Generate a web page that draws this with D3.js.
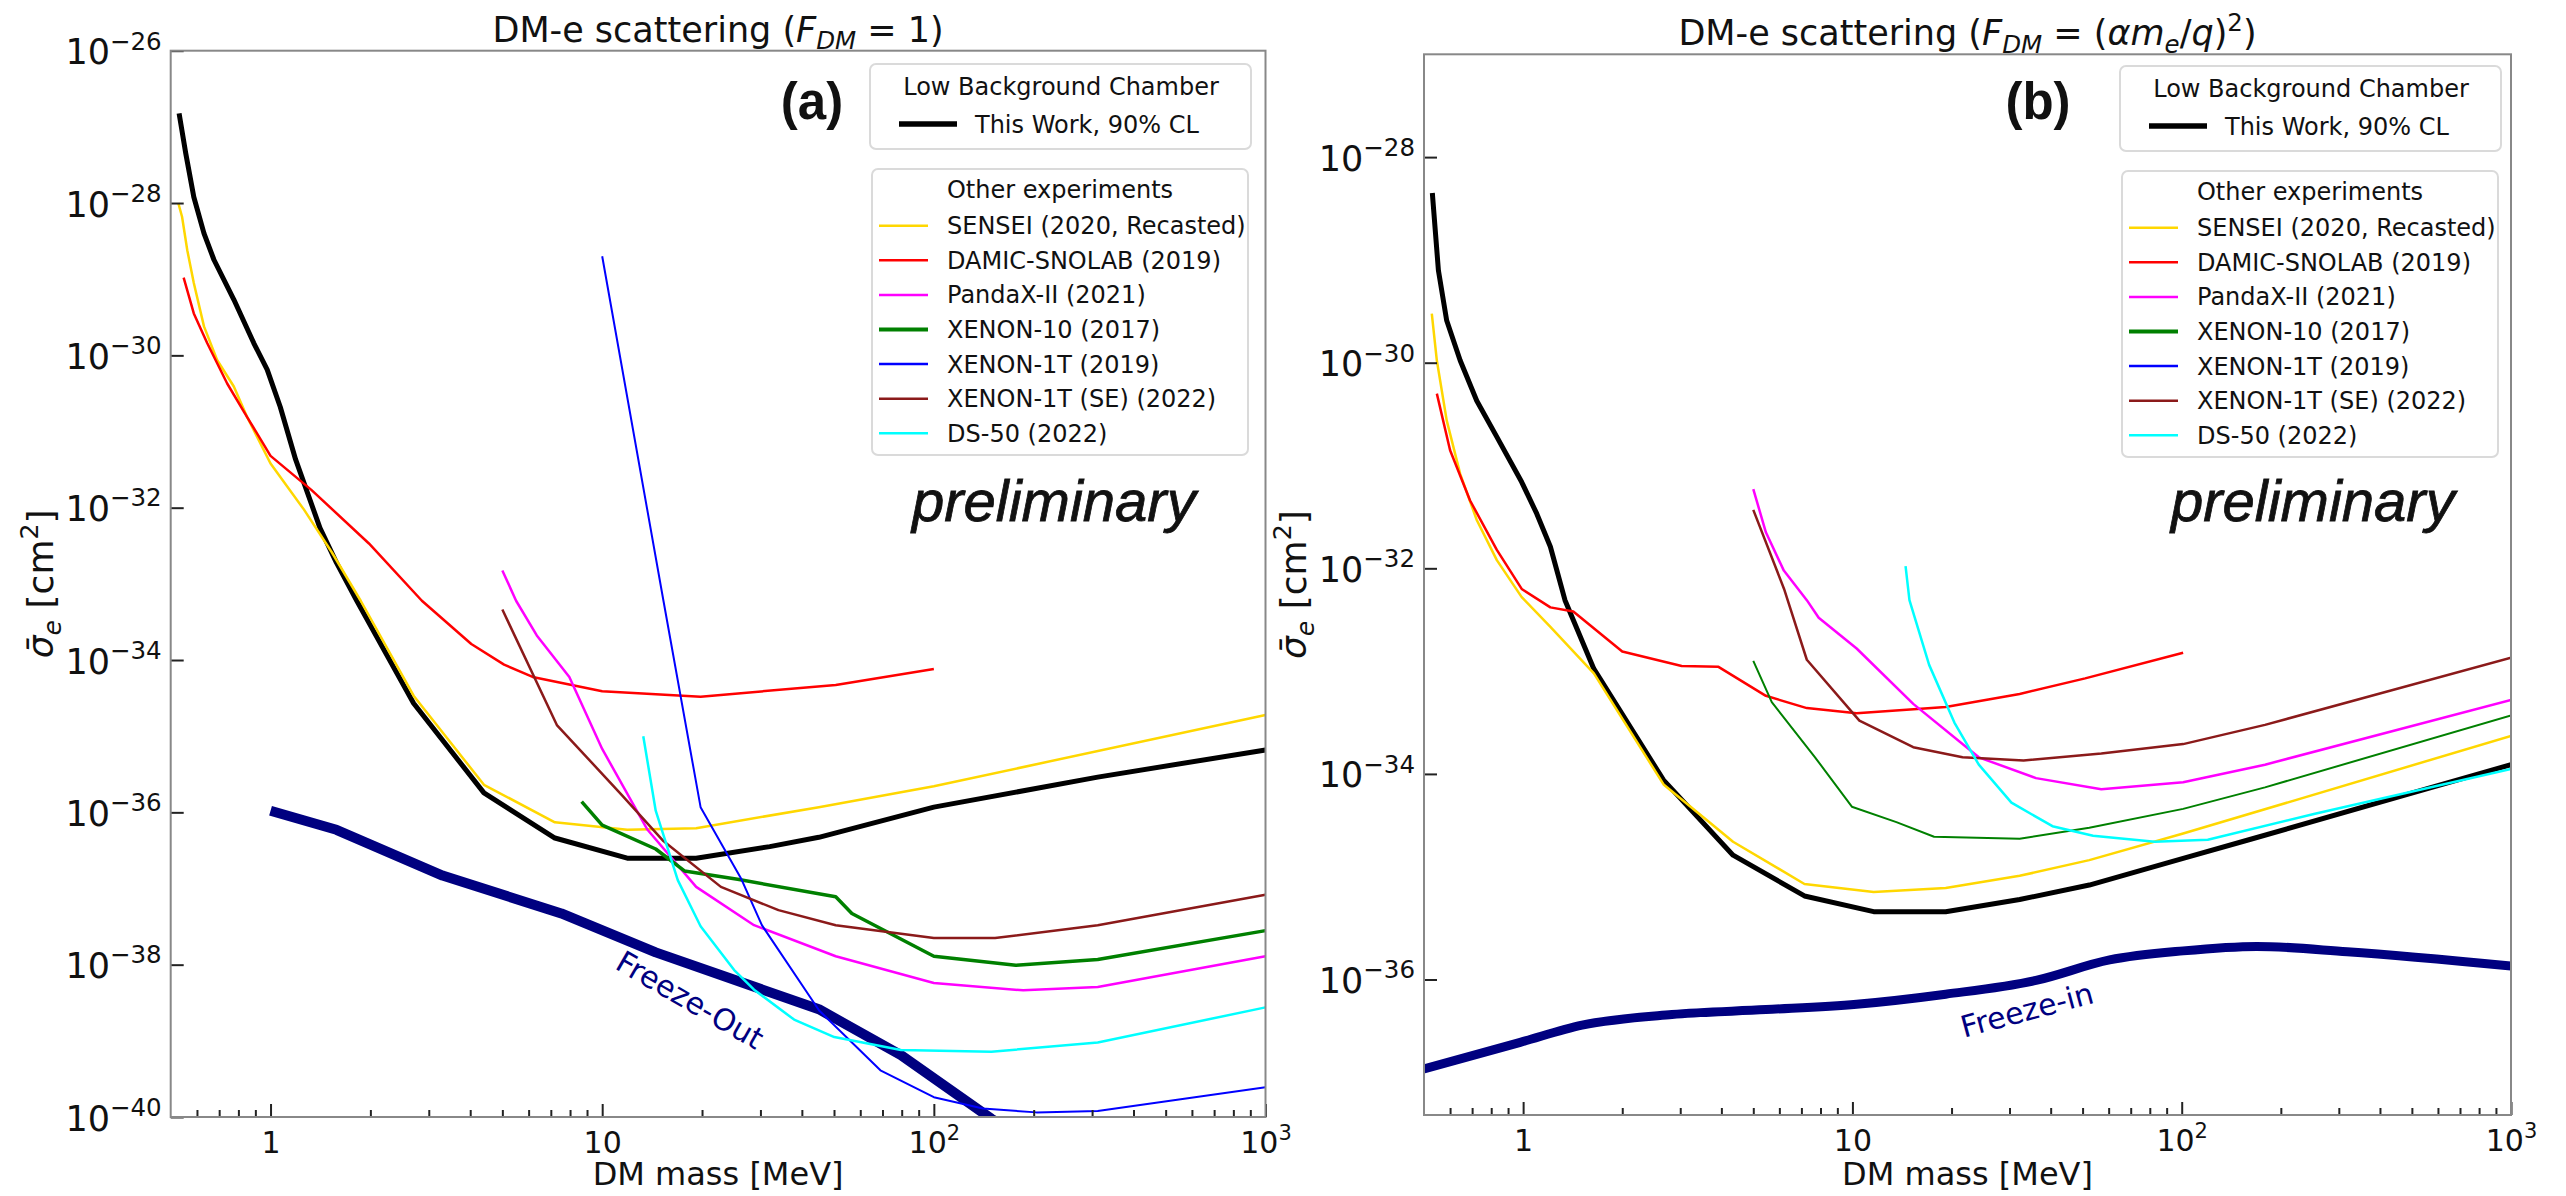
<!DOCTYPE html>
<html>
<head>
<meta charset="utf-8">
<script src="https://cdn.jsdelivr.net/npm/d3@7"></script>
<style>
    body { margin: 0; background: #fff; }
    svg text { font-family: "DejaVu Sans", sans-serif; fill: #111; }
</style>
</head>
<body>
<div id="chart"></div>
<script>
// DM mass [MeV] vs cross section [cm^2]

// panel (a), F_DM = 1
const thisWorkA = [[0.53,1.5e-27],[0.555,4.5e-28],[0.587,1.2e-28],[0.63,4.0e-29],[0.675,1.8e-29],[0.775,5.4e-30],[0.89,1.45e-30],[0.977,6.5e-31],[1.07,2.1e-31],[1.19,4.3e-32],[1.41,5.4e-33],[1.58,1.9e-33],[1.82,6.0e-34],[2.7,2.7e-35],[4.4,1.8e-36],[7.2,4.6e-37],[11.9,2.5e-37],[19.2,2.5e-37],[32,3.55e-37],[45,4.7e-37],[100,1.17e-36],[312,2.9e-36],[1000,6.6e-36]];
const senseiA = [[0.527,1.0e-28],[0.541,6.6e-29],[0.561,2.4e-29],[0.587,8.9e-30],[0.63,2.4e-30],[0.69,8.7e-31],[0.775,3.9e-31],[0.85,1.55e-31],[1.0,3.8e-32],[1.26,9.5e-33],[1.53,2.6e-33],[1.87,6.0e-34],[2.7,3.4e-35],[4.4,2.3e-36],[7.2,7.4e-37],[11.9,5.9e-37],[19.2,6.2e-37],[45,1.17e-36],[100,2.2e-36],[1000,1.9e-35]];
const damicA = [[0.547,1.05e-29],[0.587,3.55e-30],[0.644,1.45e-30],[0.74,4.27e-31],[0.85,1.55e-31],[1.0,4.79e-32],[1.33,1.7e-32],[1.98,3.39e-33],[2.86,6.0e-34],[4.03,1.62e-34],[5.06,8.7e-35],[6.17,6.0e-35],[10,3.9e-35],[19.8,3.3e-35],[50.6,4.7e-35],[100,7.6e-35]];
const pandaxA = [[5.0,1.5e-33],[5.5,6.0e-34],[6.35,2.1e-34],[7.96,6.0e-35],[10,6.8e-36],[13.7,5.9e-37],[19.2,1.05e-37],[28.7,3.3e-38],[50.6,1.29e-38],[100,5.75e-39],[186,4.6e-39],[312,5.1e-39],[1000,1.29e-38]];
const xenon10A = [[8.67,1.38e-36],[10,6.8e-37],[14.5,3.3e-37],[17.7,1.7e-37],[25.6,1.32e-37],[50.6,7.8e-38],[56.6,4.7e-38],[100,1.29e-38],[176.6,9.8e-39],[312,1.17e-38],[1000,2.8e-38]];
const xenon1tA = [[10,2.0e-29],[15.3,6.0e-34],[19.8,1.17e-36],[26.3,1.32e-37],[30.3,3.3e-38],[45.1,2.5e-39],[69,4.1e-40],[100,1.82e-40],[140.6,1.29e-40],[203.7,1.15e-40],[312,1.2e-40],[1000,2.45e-40]];
const xenon1tSEA = [[5.0,4.6e-34],[7.3,1.4e-35],[11.5,1.66e-36],[15.3,4.2e-37],[22.8,1.05e-37],[34,5.2e-38],[50.6,3.3e-38],[100,2.24e-38],[153,2.24e-38],[312,3.3e-38],[1000,8.3e-38]];
const ds50A = [[13.3,1.0e-35],[14.5,1.05e-36],[16.9,1.29e-37],[19.8,3.2e-38],[25,8.5e-39],[28.7,4.7e-39],[37.9,1.9e-39],[50.1,1.12e-39],[79.6,7.6e-40],[149,7.2e-40],[312,9.5e-40],[1000,2.75e-39]];
const freezeOutA = [[1.0,1.05e-36],[1.58,5.9e-37],[3.3,1.48e-37],[7.53,4.7e-38],[14.5,1.45e-38],[45,2.6e-39],[79.6,6.5e-40],[149,9.5e-41],[160,7.8e-41]];

// panel (b), F_DM = (alpha m_e / q)^2
const thisWorkB = [[0.53,4.47e-29],[0.553,7.9e-30],[0.586,2.57e-30],[0.644,1.05e-30],[0.723,4.27e-31],[0.832,1.9e-31],[0.99,6.9e-32],[1.1,3.4e-32],[1.21,1.62e-32],[1.34,4.9e-33],[1.64,1.05e-33],[2.67,8.7e-35],[4.34,1.62e-35],[7.15,6.5e-36],[11.6,4.57e-36],[19.2,4.57e-36],[32.2,6.0e-36],[52.4,8.3e-36],[101,1.51e-35],[160,2.29e-35],[1000,1.23e-34]];
const senseiB = [[0.528,3.0e-30],[0.547,1.05e-30],[0.586,2.75e-31],[0.644,8.3e-32],[0.723,2.95e-32],[0.832,1.2e-32],[0.99,5.25e-33],[1.21,2.69e-33],[1.64,9.5e-34],[2.67,7.9e-35],[4.34,2.19e-35],[7.15,8.5e-36],[11.6,7.1e-36],[19.2,7.76e-36],[32.2,1.02e-35],[52.4,1.45e-35],[101,2.63e-35],[1000,2.34e-34]];
const damicB = [[0.547,5.0e-31],[0.6,1.41e-31],[0.69,4.57e-32],[0.832,1.51e-32],[0.99,6.3e-33],[1.21,4.17e-33],[1.42,3.8e-33],[2.0,1.55e-33],[3.03,1.12e-33],[3.92,1.1e-33],[5.46,5.75e-34],[7.27,4.37e-34],[10.3,3.9e-34],[19.2,4.47e-34],[32.2,6.0e-34],[50.9,8.5e-34],[101,1.51e-33]];
const pandaxB = [[5.0,5.9e-32],[5.46,2.24e-32],[6.19,9.5e-33],[7.27,4.9e-33],[7.9,3.3e-33],[10.3,1.66e-33],[15.3,4.8e-34],[24.2,1.45e-34],[36.1,9.1e-35],[57,7.1e-35],[101,8.3e-35],[179,1.23e-34],[1000,5.25e-34]];
const xenon10B = [[5.0,1.26e-33],[5.69,5.0e-34],[7.7,1.45e-34],[9.96,4.8e-35],[13.6,3.4e-35],[17.7,2.45e-35],[32.2,2.34e-35],[52.4,3.0e-35],[101,4.57e-35],[179,7.4e-35],[1000,3.7e-34]];
const xenon1tB = [];
const xenon1tSEB = [[5.0,3.7e-32],[6.2,6.3e-33],[7.27,1.29e-33],[10.5,3.3e-34],[15.3,1.82e-34],[21.6,1.45e-34],[33.1,1.35e-34],[57,1.58e-34],[101,1.95e-34],[179,3.0e-34],[1000,1.35e-33]];
const ds50B = [[14.5,1.05e-32],[14.9,4.9e-33],[17.1,1.15e-33],[20.4,3.16e-34],[24.2,1.23e-34],[30.4,5.25e-35],[40.5,3.1e-35],[53.8,2.5e-35],[82.8,2.19e-35],[120,2.29e-35],[252,4.07e-35],[1000,1.12e-34]];
const freezeInB = [[0.5,1.35e-37],[0.98,2.45e-37],[1.51,3.6e-37],[2.83,4.57e-37],[5.46,5.1e-37],[10.3,5.75e-37],[19.2,7.2e-37],[36.1,9.8e-37],[60.4,1.55e-36],[101,1.9e-36],[169,2.1e-36],[318,1.86e-36],[1000,1.35e-36]];

const experiments = ["SENSEI (2020, Recasted)", "DAMIC-SNOLAB (2019)", "PandaX-II (2021)",
    "XENON-10 (2017)", "XENON-1T (2019)", "XENON-1T (SE) (2022)", "DS-50 (2022)"];
const xTicks = [1, 10, 100, 1000];
const yTickExpA = [-26, -28, -30, -32, -34, -36, -38, -40];
const yTickExpB = [-28, -30, -32, -34, -36];

// styles
const expColors = ["#ffd700", "#ff0000", "#ff00ff", "#008000", "#0000ff", "#8b1a1a", "#00ffff"];
const legendWidths = [2.5, 2.5, 2.5, 4, 2.5, 2.5, 2.5];

const svg = d3.select("#chart").append("svg")
    .attr("width", 2566)
    .attr("height", 1196)
    .style("display", "block");

// runs of [text, style]; style: "" | "i" | "sub" | "isub" | "sup"
function richText(sel, runs, size) {
    let shift = 0;
    runs.forEach(([t, st]) => {
        const small = st.includes("sub") || st.includes("sup");
        const target = st.includes("sub") ? 0.22 * size : st.includes("sup") ? -0.42 * size : 0;
        sel.append("tspan")
            .attr("dy", target - shift)
            .style("font-size", (small ? size * 0.7 : size) + "px")
            .style("font-style", st.startsWith("i") ? "italic" : null)
            .text(t);
        shift = target;
    });
}

function drawPanel(cfg) {
    const x = d3.scaleLog().domain([0.5, 1000]).range([cfg.left, cfg.right]);
    const y = d3.scaleLog().domain(cfg.yDomain).range([cfg.bottom, cfg.top]);
    const g = svg.append("g");

    g.append("clipPath").attr("id", "clip-" + cfg.id)
        .append("rect")
        .attr("x", cfg.left).attr("y", cfg.top)
        .attr("width", cfg.right - cfg.left).attr("height", cfg.bottom - cfg.top);

    const line = d3.line().x(d => x(d[0])).y(d => y(d[1]));
    const smooth = d3.line().x(d => x(d[0])).y(d => y(d[1])).curve(d3.curveMonotoneX);
    const lines = g.append("g").attr("clip-path", `url(#clip-${cfg.id})`);

    const all = [
        { data: cfg.freeze, color: "#000080", width: cfg.freezeWidth, gen: cfg.freezeSmooth ? smooth : line },
        { data: cfg.thisWork, color: "#000", width: 5, gen: line }
    ].concat(cfg.exps.map((d, i) => ({ data: d, color: expColors[i], width: cfg.expWidths[i], gen: line })));

    lines.selectAll("path")
        .data(all.filter(s => s.data.length))
        .enter()
        .append("path")
        .attr("d", s => s.gen(s.data))
        .attr("fill", "none")
        .attr("stroke", s => s.color)
        .attr("stroke-width", s => s.width)
        .attr("stroke-linejoin", "round");

    // axes (ticks inward, bottom and left only)
    const minors = [];
    [0.1, 1, 10, 100].forEach(dec => {
        for (let k = 2; k <= 9; k++) {
            const v = k * dec;
            if (v > 0.5 && v < 1000) minors.push(v);
        }
    });

    const xMinor = g.append("g")
        .attr("transform", `translate(0, ${cfg.bottom})`)
        .call(d3.axisBottom(x).tickValues(minors).tickSize(-7).tickFormat(""));
    const xMajor = g.append("g")
        .attr("transform", `translate(0, ${cfg.bottom})`)
        .call(d3.axisBottom(x).tickValues(xTicks).tickSize(-13).tickFormat(""));
    const yMajor = g.append("g")
        .attr("transform", `translate(${cfg.left}, 0)`)
        .call(d3.axisLeft(y).tickValues(cfg.yTicks.map(e => Math.pow(10, e))).tickSize(-13).tickFormat(""));

    [xMinor, xMajor, yMajor].forEach(a => {
        a.select(".domain").remove();
        a.selectAll(".tick text").remove();
        a.selectAll(".tick line").attr("stroke", "#222").attr("stroke-width", 2);
    });

    xMajor.selectAll(".tick").append("text")
        .attr("y", 36)
        .attr("text-anchor", "middle")
        .each(function (d) {
            const t = d3.select(this);
            if (d < 100) richText(t, [[String(d), ""]], 30);
            else richText(t, [["10", ""], [String(Math.round(Math.log10(d))), "sup"]], 30);
        });

    yMajor.selectAll(".tick").append("text")
        .attr("x", -9)
        .attr("y", 13)
        .attr("text-anchor", "end")
        .each(function (d) {
            const e = Math.round(Math.log10(d));
            richText(d3.select(this), [["10", ""], ["\u2212" + Math.abs(e), "sup"]], 35);
        });

    g.append("rect")
        .attr("x", cfg.left).attr("y", cfg.top)
        .attr("width", cfg.right - cfg.left).attr("height", cfg.bottom - cfg.top)
        .attr("fill", "none")
        .attr("stroke", "#888")
        .attr("stroke-width", 2);

    // titles and axis labels
    const title = g.append("text")
        .attr("x", (cfg.left + cfg.right) / 2)
        .attr("y", cfg.top - 9)
        .attr("text-anchor", "middle");
    richText(title, cfg.title, 35);

    g.append("text")
        .attr("x", (cfg.left + cfg.right) / 2)
        .attr("y", 1185)
        .attr("text-anchor", "middle")
        .style("font-size", "32px")
        .text("DM mass [MeV]");

    const yl = g.append("text")
        .attr("transform", `translate(${cfg.left - 118}, ${(cfg.top + cfg.bottom) / 2}) rotate(-90)`)
        .attr("text-anchor", "middle");
    richText(yl, [["\u03c3\u0304", "i"], ["e", "isub"], [" [cm", ""], ["2", "sup"], ["]", ""]], 36);

    g.append("text")
        .attr("x", cfg.panelX)
        .attr("y", 119)
        .attr("text-anchor", "middle")
        .style("font-family", "'Liberation Sans', Arial, sans-serif")
        .style("font-weight", "bold")
        .style("font-size", "51px")
        .text(cfg.panel);

    g.append("text")
        .attr("x", cfg.prelimX)
        .attr("y", 521)
        .style("font-family", "'Liberation Sans', Arial, sans-serif")
        .style("font-style", "italic")
        .style("font-size", "58px")
        .style("stroke", "#111")
        .style("stroke-width", 0.8)
        .text("preliminary");

    g.append("text")
        .attr("transform", `translate(${cfg.freezeLabel.x}, ${cfg.freezeLabel.y}) rotate(${cfg.freezeLabel.angle})`)
        .attr("text-anchor", "middle")
        .attr("dy", "0.35em")
        .style("font-size", "30px")
        .style("fill", "#000080")
        .text(cfg.freezeLabel.text);

    // legends
    const L = cfg.legendX, T = cfg.legendY;
    const lg = g.append("g");
    lg.append("rect")
        .attr("x", L).attr("y", T).attr("width", 381).attr("height", 85)
        .attr("rx", 6)
        .attr("fill", "#fff").attr("stroke", "#dadada").attr("stroke-width", 2);
    lg.append("text")
        .attr("x", L + 191).attr("y", T + 31)
        .attr("text-anchor", "middle")
        .style("font-size", "24px")
        .text("Low Background Chamber");
    lg.append("line")
        .attr("x1", L + 29).attr("x2", L + 87)
        .attr("y1", T + 60).attr("y2", T + 60)
        .attr("stroke", "#000").attr("stroke-width", 5.5);
    lg.append("text")
        .attr("x", L + 105).attr("y", T + 69)
        .style("font-size", "24px")
        .text("This Work, 90% CL");

    lg.append("rect")
        .attr("x", L + 2).attr("y", T + 105).attr("width", 376).attr("height", 286)
        .attr("rx", 6)
        .attr("fill", "#fff").attr("stroke", "#dadada").attr("stroke-width", 2);
    lg.append("text")
        .attr("x", L + 190).attr("y", T + 134)
        .attr("text-anchor", "middle")
        .style("font-size", "24px")
        .text("Other experiments");

    const rows = lg.selectAll("g.entry")
        .data(experiments)
        .enter()
        .append("g")
        .attr("class", "entry")
        .attr("transform", (d, i) => `translate(0, ${T + 161.7 + i * 34.6})`);
    rows.append("line")
        .attr("x1", L + 9).attr("x2", L + 58)
        .attr("stroke", (d, i) => expColors[i])
        .attr("stroke-width", (d, i) => legendWidths[i]);
    rows.append("text")
        .attr("x", L + 77).attr("y", 8.5)
        .style("font-size", "24px")
        .text(d => d);
}

drawPanel({
    id: "a",
    left: 170.7, right: 1265.5, top: 50.7, bottom: 1117,
    yDomain: [1e-40, 1e-26],
    yTicks: yTickExpA,
    thisWork: thisWorkA,
    freeze: freezeOutA,
    freezeWidth: 10,
    freezeSmooth: false,
    exps: [senseiA, damicA, pandaxA, xenon10A, xenon1tA, xenon1tSEA, ds50A],
    expWidths: [2.5, 2.5, 2.5, 3.5, 2, 2.5, 2.5],
    title: [["DM-e scattering (", ""], ["F", "i"], ["DM", "isub"], [" = 1)", ""]],
    panel: "(a)", panelX: 812,
    prelimX: 912,
    freezeLabel: { text: "Freeze-Out", x: 690, y: 1000, angle: 30 },
    legendX: 870, legendY: 64
});

drawPanel({
    id: "b",
    left: 1424, right: 2511, top: 54.3, bottom: 1115,
    yDomain: [4.81e-38, 1e-27],
    yTicks: yTickExpB,
    thisWork: thisWorkB,
    freeze: freezeInB,
    freezeWidth: 9,
    freezeSmooth: true,
    exps: [senseiB, damicB, pandaxB, xenon10B, xenon1tB, xenon1tSEB, ds50B],
    expWidths: [2.5, 2.5, 2.5, 2, 2, 2.5, 2.5],
    title: [["DM-e scattering (", ""], ["F", "i"], ["DM", "isub"], [" = (", ""], ["\u03b1m", "i"], ["e", "isub"], ["/", ""], ["q", "i"], [")", ""], ["2", "sup"], [")", ""]],
    panel: "(b)", panelX: 2038,
    prelimX: 2171,
    freezeLabel: { text: "Freeze-in", x: 2027, y: 1010, angle: -15 },
    legendX: 2120, legendY: 66
});
</script>
</body>
</html>
